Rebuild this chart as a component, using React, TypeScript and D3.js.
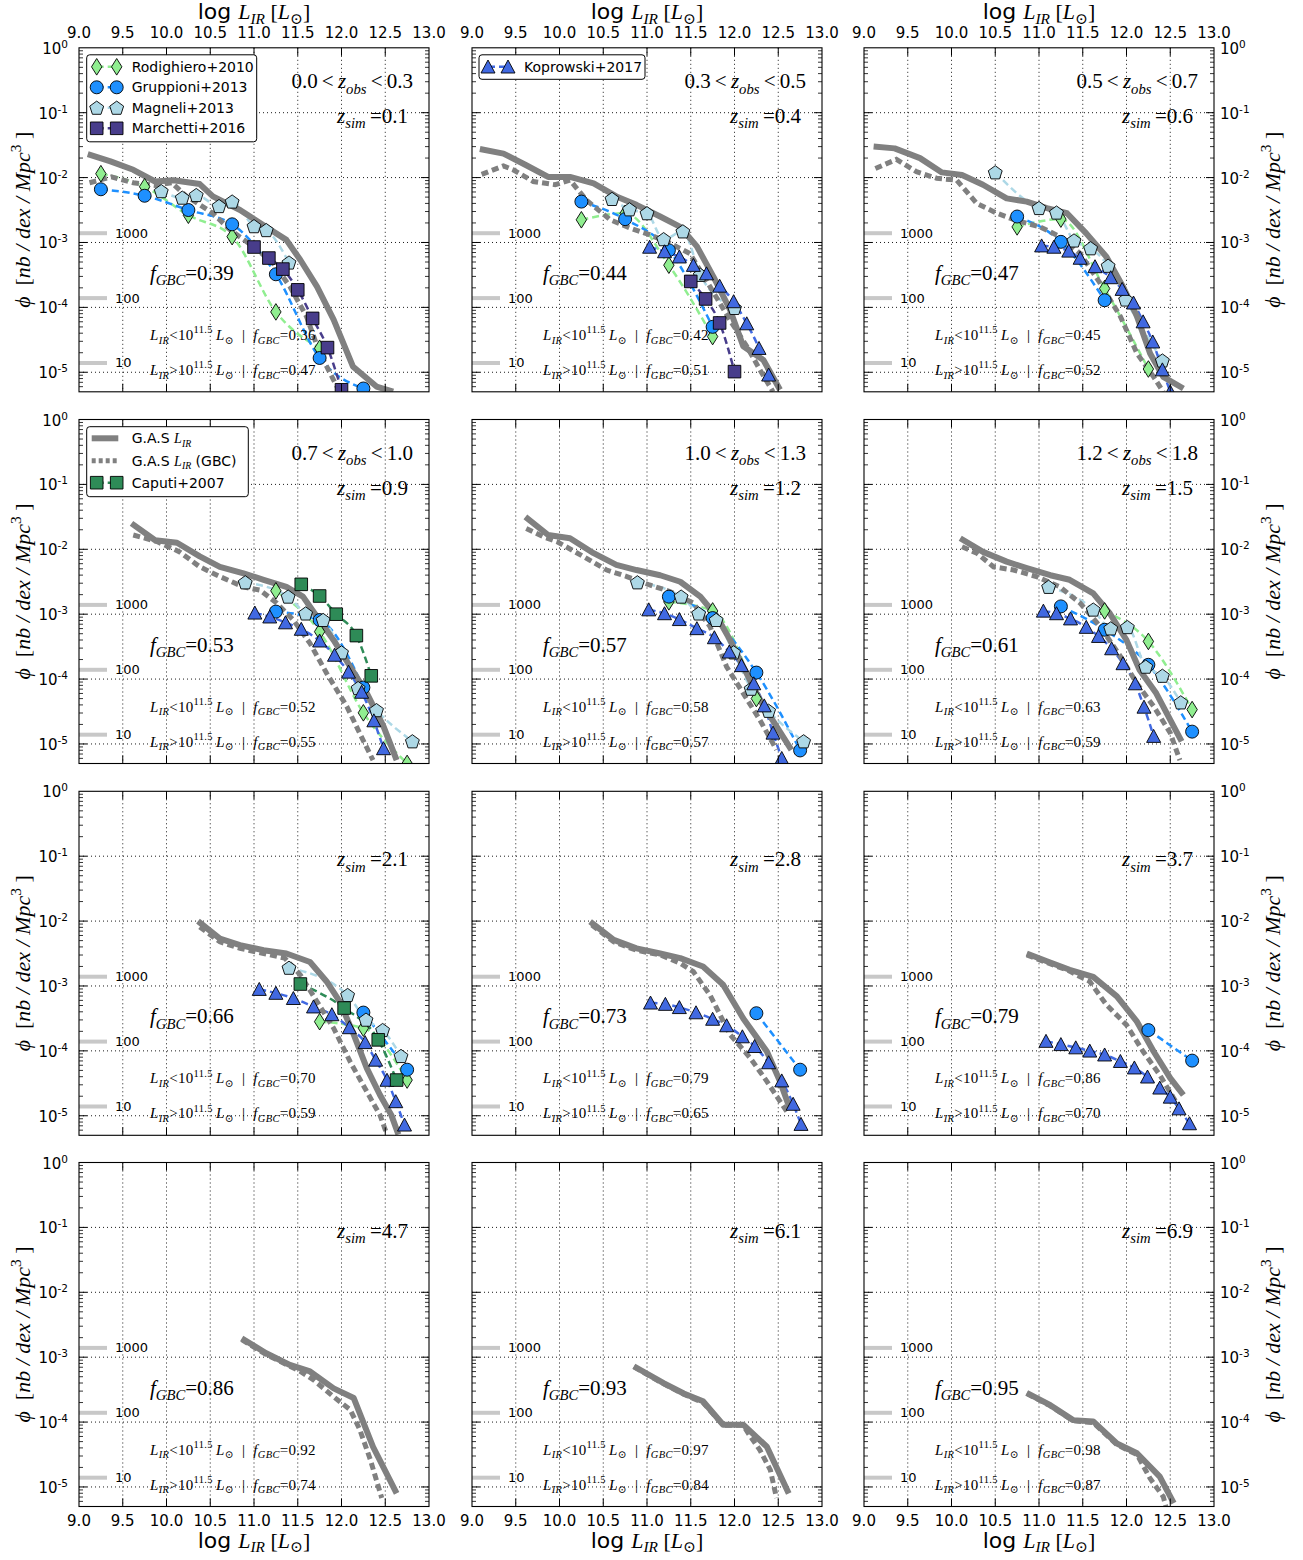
import React from "react";
import * as d3 from "d3";

type Pt = [number, number]; // [log L_IR, log10 phi]

const W = 1303;
const H = 1560;
const COL_LEFT = [79, 472, 864];
const ROW_TOP = [47.8, 419.5, 791.3, 1162.5];
const PW = 350;
const PH = 344;

const SERIF = "'Liberation Serif', 'DejaVu Serif', serif";
const SANS = "'DejaVu Sans', 'Liberation Sans', sans-serif";

const X_TICKS = [9.0, 9.5, 10.0, 10.5, 11.0, 11.5, 12.0, 12.5, 13.0];
const Y_DECADES = [0, -1, -2, -3, -4, -5];
const REF_COUNTS = ["1000", "100", "10"];
const REF_PHI = [1.39e-3, 1.39e-4, 1.39e-5];

const Z_OBS: (string[] | null)[] = [
  ["0.0", "0.3"], ["0.3", "0.5"], ["0.5", "0.7"],
  ["0.7", "1.0"], ["1.0", "1.3"], ["1.2", "1.8"],
  null, null, null, null, null, null,
];
const Z_SIM = ["0.1", "0.4", "0.6", "0.9", "1.2", "1.5", "2.1", "2.8", "3.7", "4.7", "6.1", "6.9"];
const F_GBC = ["0.39", "0.44", "0.47", "0.53", "0.57", "0.61", "0.66", "0.73", "0.79", "0.86", "0.93", "0.95"];
const F_GBC_LOW = ["0.36", "0.42", "0.45", "0.52", "0.58", "0.63", "0.70", "0.79", "0.86", "0.92", "0.97", "0.98"];
const F_GBC_HIGH = ["0.47", "0.51", "0.52", "0.55", "0.57", "0.59", "0.59", "0.65", "0.70", "0.74", "0.84", "0.87"];

// G.A.S total L_IR luminosity function, one array per panel
const gasLIR: Pt[][] = [
  [[9.10,-1.64],[9.36,-1.75],[9.62,-1.88],[9.87,-2.06],[10.08,-2.04],[10.38,-2.10],[10.53,-2.29],[10.84,-2.50],[11.14,-2.76],[11.37,-2.96],[11.53,-3.27],[11.72,-3.68],[11.91,-4.19],[12.13,-4.91],[12.40,-5.22],[12.59,-5.30]],
  [[9.09,-1.56],[9.36,-1.63],[9.62,-1.81],[9.87,-1.99],[10.12,-1.99],[10.39,-2.09],[10.65,-2.29],[10.88,-2.42],[11.15,-2.60],[11.38,-2.76],[11.57,-3.06],[11.76,-3.53],[11.95,-4.04],[12.10,-4.60],[12.33,-4.81],[12.52,-5.27]],
  [[9.11,-1.52],[9.35,-1.55],[9.64,-1.70],[9.89,-1.92],[10.12,-1.96],[10.36,-2.11],[10.63,-2.32],[10.86,-2.37],[11.09,-2.47],[11.32,-2.55],[11.54,-2.86],[11.77,-3.22],[11.96,-3.68],[12.12,-4.14],[12.27,-4.71],[12.42,-5.07],[12.65,-5.25]],
  [[9.60,-1.60],[9.87,-1.86],[10.12,-1.90],[10.38,-2.11],[10.61,-2.27],[10.88,-2.37],[11.11,-2.47],[11.37,-2.58],[11.56,-2.73],[11.72,-3.04],[11.91,-3.40],[12.10,-3.81],[12.29,-4.22],[12.48,-4.73],[12.63,-5.25]],
  [[9.61,-1.50],[9.87,-1.78],[10.12,-1.83],[10.39,-2.06],[10.65,-2.24],[10.88,-2.32],[11.15,-2.40],[11.38,-2.50],[11.61,-2.73],[11.80,-3.04],[11.95,-3.40],[12.10,-3.81],[12.29,-4.32],[12.48,-4.73],[12.65,-5.09]],
  [[10.10,-1.83],[10.36,-2.04],[10.63,-2.19],[10.86,-2.29],[11.13,-2.40],[11.35,-2.47],[11.62,-2.68],[11.81,-2.99],[12.00,-3.40],[12.15,-3.86],[12.34,-4.22],[12.50,-4.63],[12.63,-4.96]],
  [[10.36,-2.00],[10.61,-2.27],[10.84,-2.37],[11.11,-2.45],[11.37,-2.50],[11.64,-2.63],[11.83,-2.93],[11.98,-3.24],[12.14,-3.75],[12.29,-4.27],[12.44,-4.68],[12.57,-4.99],[12.65,-5.29]],
  [[10.35,-2.01],[10.62,-2.29],[10.88,-2.42],[11.15,-2.50],[11.38,-2.57],[11.64,-2.70],[11.87,-2.98],[12.10,-3.50],[12.37,-4.01],[12.52,-4.47],[12.63,-4.88]],
  [[10.86,-2.50],[11.09,-2.62],[11.35,-2.75],[11.62,-2.86],[11.89,-3.16],[12.12,-3.55],[12.31,-4.01],[12.50,-4.42],[12.65,-4.68]],
  [[10.86,-2.71],[11.14,-2.94],[11.41,-3.12],[11.64,-3.22],[11.91,-3.48],[12.14,-3.63],[12.36,-4.38],[12.63,-5.10]],
  [[10.85,-3.14],[11.19,-3.40],[11.42,-3.56],[11.64,-3.68],[11.87,-4.04],[12.10,-4.04],[12.37,-4.38],[12.62,-5.10]],
  [[10.86,-3.55],[11.13,-3.74],[11.39,-3.97],[11.62,-3.99],[11.89,-4.33],[12.12,-4.48],[12.38,-4.84],[12.54,-5.25]],
];

// G.A.S L_IR for the GBC population
const gasGBC: Pt[][] = [
  [[9.12,-2.08],[9.37,-1.99],[9.62,-2.08],[9.87,-2.12],[10.06,-2.08],[10.23,-2.29],[10.53,-2.55],[10.73,-2.81],[10.99,-3.06],[11.22,-3.32],[11.41,-3.68],[11.60,-4.14],[11.75,-4.70],[11.91,-5.12],[11.98,-5.30]],
  [[9.11,-1.95],[9.36,-1.82],[9.47,-1.88],[9.70,-2.06],[9.95,-2.11],[10.12,-2.04],[10.31,-2.35],[10.58,-2.65],[10.81,-2.78],[11.03,-2.88],[11.26,-3.01],[11.49,-3.17],[11.72,-3.68],[11.95,-4.20],[12.14,-4.60],[12.29,-4.96],[12.44,-5.30]],
  [[9.13,-1.86],[9.37,-1.72],[9.60,-1.91],[9.83,-2.01],[10.06,-2.04],[10.29,-2.40],[10.52,-2.55],[10.74,-2.66],[11.01,-2.76],[11.24,-2.91],[11.47,-3.17],[11.70,-3.63],[11.93,-4.14],[12.12,-4.71],[12.31,-5.07],[12.42,-5.30]],
  [[9.62,-1.78],[9.89,-1.88],[10.15,-2.04],[10.38,-2.27],[10.61,-2.42],[10.88,-2.58],[11.07,-2.63],[11.26,-2.83],[11.45,-3.09],[11.64,-3.45],[11.83,-3.91],[12.06,-4.42],[12.21,-4.84],[12.36,-5.25]],
  [[9.62,-1.68],[9.82,-1.81],[9.97,-1.88],[10.27,-2.11],[10.54,-2.32],[10.77,-2.42],[11.03,-2.55],[11.26,-2.65],[11.53,-2.83],[11.72,-3.19],[11.91,-3.81],[12.10,-4.22],[12.29,-4.63],[12.48,-5.09]],
  [[10.12,-1.96],[10.29,-2.06],[10.48,-2.27],[10.71,-2.32],[10.97,-2.42],[11.24,-2.58],[11.47,-2.83],[11.70,-3.19],[11.93,-3.65],[12.12,-4.07],[12.31,-4.42],[12.50,-4.83],[12.61,-5.25]],
  [[10.38,-2.09],[10.61,-2.32],[10.84,-2.42],[11.11,-2.50],[11.35,-2.57],[11.53,-2.83],[11.72,-3.24],[11.91,-3.65],[12.10,-4.17],[12.29,-4.63],[12.44,-4.99],[12.52,-5.29]],
  [[10.37,-2.06],[10.62,-2.32],[10.88,-2.45],[11.15,-2.52],[11.38,-2.65],[11.53,-2.78],[11.72,-3.14],[11.95,-3.75],[12.18,-4.11],[12.37,-4.47],[12.60,-4.94]],
  [[10.86,-2.52],[11.09,-2.64],[11.35,-2.77],[11.43,-2.83],[11.58,-2.93],[11.77,-3.29],[12.00,-3.60],[12.19,-4.01],[12.38,-4.37],[12.54,-4.73],[12.61,-4.88]],
  [[10.86,-2.73],[11.14,-2.96],[11.41,-3.14],[11.53,-3.22],[11.68,-3.35],[11.91,-3.61],[12.10,-3.81],[12.21,-4.12],[12.33,-4.58],[12.46,-5.17]],
  [[10.85,-3.15],[11.19,-3.41],[11.42,-3.57],[11.64,-3.70],[11.87,-4.05],[12.10,-4.05],[12.18,-4.22],[12.29,-4.43],[12.41,-4.74],[12.48,-5.17]],
  [[10.86,-3.56],[11.13,-3.75],[11.39,-3.98],[11.62,-4.01],[11.89,-4.35],[12.12,-4.50],[12.27,-4.87],[12.42,-5.15],[12.45,-5.30]],
];

const rodighiero2010: Pt[][] = [
  [[9.25,-1.94],[9.75,-2.14],[10.25,-2.58],[10.75,-2.91],[11.25,-4.07],[11.75,-4.63]],
  [[10.25,-2.65],[10.75,-2.55],[11.25,-3.35],[11.75,-4.45]],
  [[10.75,-2.76],[11.25,-2.64],[11.75,-3.71],[12.25,-4.95]],
  [[11.25,-2.64],[11.75,-3.27],[12.25,-4.52],[12.75,-5.30]],
  [[11.25,-2.81],[11.75,-2.95],[12.25,-4.30]],
  [[11.75,-2.95],[12.25,-3.42],[12.75,-4.47]],
  [[11.75,-3.55],[12.25,-3.65],[12.75,-4.45]],
  [], [], [], [], [],
];

const gruppioni2013: Pt[][] = [
  [[9.25,-2.18],[9.75,-2.28],[10.25,-2.50],[10.75,-2.72],[11.25,-3.49],[11.75,-4.78],[12.25,-5.25]],
  [[10.25,-2.37],[10.75,-2.64],[11.25,-3.12],[11.75,-4.30]],
  [[10.75,-2.60],[11.25,-2.99],[11.75,-3.89]],
  [[11.25,-2.96],[11.75,-3.09],[12.25,-4.13]],
  [[11.25,-2.73],[11.75,-3.06],[12.25,-3.90],[12.75,-5.10]],
  [[11.25,-2.88],[11.75,-3.24],[12.25,-3.78],[12.75,-4.81]],
  [[12.25,-3.41],[12.75,-4.29]],
  [[12.25,-3.42],[12.75,-4.29]],
  [[12.25,-3.68],[12.75,-4.15]],
  [], [], [],
];

const magneli2013: Pt[][] = [
  [[9.94,-2.21],[10.18,-2.31],[10.34,-2.27],[10.60,-2.44],[10.75,-2.37],[11.00,-2.75],[11.14,-2.81],[11.40,-3.31]],
  [[10.60,-2.33],[10.80,-2.49],[11.00,-2.55],[11.19,-2.95],[11.41,-2.83],[11.61,-3.50],[12.00,-4.01]],
  [[10.50,-1.92],[11.00,-2.47],[11.20,-2.54],[11.40,-2.97],[11.59,-3.09],[11.79,-3.36],[11.99,-3.88],[12.41,-4.82]],
  [[10.90,-2.51],[11.39,-2.73],[11.59,-2.99],[11.79,-3.09],[12.00,-3.59],[12.19,-4.14],[12.40,-4.48],[12.81,-4.96]],
  [[10.89,-2.51],[11.39,-2.73],[11.59,-2.99],[11.79,-3.09],[11.99,-3.59],[12.19,-4.15],[12.39,-4.49],[12.79,-4.96]],
  [[11.11,-2.58],[11.62,-2.93],[11.82,-3.22],[12.01,-3.20],[12.22,-3.81],[12.41,-3.95],[12.62,-4.36]],
  [[11.40,-2.72],[12.07,-3.14],[12.28,-3.52],[12.47,-3.68],[12.68,-4.08]],
  [], [], [], [], [],
];

const marchetti2016: Pt[][] = [
  [[11.00,-3.07],[11.17,-3.24],[11.33,-3.41],[11.50,-3.73],[11.67,-4.17],[11.84,-4.62],[12.00,-5.27]],
  [[11.50,-3.60],[11.67,-3.87],[11.83,-4.24],[12.00,-4.99]],
  [], [], [], [], [], [], [], [], [], [],
];

const koprowski2017: Pt[][] = [
  [],
  [[11.03,-3.07],[11.20,-3.14],[11.37,-3.22],[11.53,-3.35],[11.68,-3.48],[11.83,-3.67],[11.99,-3.91],[12.14,-4.25],[12.28,-4.63],[12.39,-5.04]],
  [[11.03,-3.05],[11.17,-3.07],[11.34,-3.13],[11.47,-3.24],[11.64,-3.37],[11.82,-3.54],[11.95,-3.72],[12.08,-3.93],[12.19,-4.22],[12.30,-4.53],[12.41,-4.96],[12.50,-5.30]],
  [[11.01,-2.98],[11.18,-3.04],[11.36,-3.13],[11.54,-3.23],[11.75,-3.41],[11.92,-3.63],[12.08,-3.89],[12.23,-4.20],[12.37,-4.64],[12.48,-5.07]],
  [[11.02,-2.93],[11.20,-2.99],[11.37,-3.08],[11.57,-3.22],[11.77,-3.36],[11.94,-3.58],[12.08,-3.79],[12.22,-4.07],[12.34,-4.41],[12.44,-4.83],[12.54,-5.22]],
  [[11.05,-2.95],[11.20,-2.99],[11.36,-3.07],[11.54,-3.20],[11.68,-3.34],[11.83,-3.53],[11.96,-3.76],[12.10,-4.07],[12.20,-4.43],[12.31,-4.88]],
  [[11.06,-3.05],[11.25,-3.11],[11.45,-3.19],[11.68,-3.32],[11.89,-3.44],[12.09,-3.64],[12.27,-3.87],[12.39,-4.14],[12.52,-4.45],[12.62,-4.78],[12.72,-5.14]],
  [[11.04,-3.26],[11.21,-3.28],[11.37,-3.33],[11.56,-3.41],[11.75,-3.51],[11.91,-3.61],[12.09,-3.78],[12.23,-3.93],[12.39,-4.18],[12.54,-4.46],[12.67,-4.82],[12.76,-5.13]],
  [[11.08,-3.85],[11.25,-3.90],[11.42,-3.95],[11.58,-4.00],[11.75,-4.06],[11.93,-4.16],[12.09,-4.26],[12.24,-4.40],[12.38,-4.57],[12.50,-4.71],[12.60,-4.89],[12.72,-5.12]],
  [], [], [],
];

const caputi2007: Pt[][] = [
  [], [], [],
  [[11.54,-2.54],[11.75,-2.72],[11.94,-3.00],[12.17,-3.33],[12.34,-3.95]],
  [], [],
  [[11.53,-2.97],[12.03,-3.34],[12.42,-3.83],[12.63,-4.45]],
  [], [], [], [], [],
];

type MarkerKind = "diamond" | "circle" | "pentagon" | "square" | "triangle";
const OBS_SERIES: { label: string; color: string; marker: MarkerKind; data: Pt[][] }[] = [
  { label: "Rodighiero+2010", color: "#90EE90", marker: "diamond", data: rodighiero2010 },
  { label: "Gruppioni+2013", color: "#1E90FF", marker: "circle", data: gruppioni2013 },
  { label: "Magneli+2013", color: "#ADD8E6", marker: "pentagon", data: magneli2013 },
  { label: "Marchetti+2016", color: "#483D8B", marker: "square", data: marchetti2016 },
  { label: "Koprowski+2017", color: "#4169E1", marker: "triangle", data: koprowski2017 },
  { label: "Caputi+2007", color: "#2E8B57", marker: "square", data: caputi2007 },
];

const GAS_COLOR = "#808080";

function polyPath(pts: number[][]) {
  return "M" + pts.map((p) => p[0].toFixed(2) + "," + p[1].toFixed(2)).join("L") + "Z";
}

function Marker({ kind, cx, cy, color }: { kind: MarkerKind; cx: number; cy: number; color: string }) {
  const common = { fill: color, stroke: "#000", strokeWidth: 0.9 };
  if (kind === "circle") return <circle cx={cx} cy={cy} r={6.5} {...common} />;
  let pts: number[][] = [];
  if (kind === "square") pts = [[-6.3, -6.3], [6.3, -6.3], [6.3, 6.3], [-6.3, 6.3]];
  if (kind === "diamond") pts = [[0, -8.3], [5.2, 0], [0, 8.3], [-5.2, 0]];
  if (kind === "triangle") pts = [[0, -6.8], [7, 6.2], [-7, 6.2]];
  if (kind === "pentagon") {
    const r = 7.3;
    pts = d3.range(5).map((k) => {
      const a = -Math.PI / 2 + (k * 2 * Math.PI) / 5;
      return [r * Math.cos(a), r * Math.sin(a) + 0.6];
    });
  }
  return <path d={polyPath(pts.map((p) => [p[0] + cx, p[1] + cy]))} {...common} />;
}

type Part = [string, string];
function MathText({
  x, y, parts, size, anchor = "start", family = SERIF, transform, subShift = 0.26, spacing = 0,
}: { x: number; y: number; parts: Part[]; size: number; anchor?: string; family?: string; transform?: string; subShift?: number; spacing?: number }) {
  let cur = 0;
  const spans = parts.map(([t, k], i) => {
    const isSub = k === "sub" || k === "subr";
    const isSup = k === "sup";
    const target = isSub ? size * subShift : isSup ? -size * 0.42 : 0;
    const dy = target - cur;
    cur = target;
    const italic = k === "i" || k === "sub";
    const fs = isSub || isSup ? size * 0.7 : size;
    const fam = k === "sans" ? SANS : family;
    return (
      <tspan key={i} dy={dy} fontSize={fs} fontStyle={italic ? "italic" : "normal"} fontFamily={fam}>
        {t}
      </tspan>
    );
  });
  return (
    <text x={x} y={y} textAnchor={anchor as any} fontSize={size} fill="#000" transform={transform} fontFamily={family} letterSpacing={spacing} style={{ whiteSpace: "pre" }}>
      {spans}
    </text>
  );
}

const TH = "\u2009";

function Panel({ i }: { i: number }) {
  const col = i % 3;
  const row = Math.floor(i / 3);
  const left = COL_LEFT[col];
  const top = ROW_TOP[row];
  const x = d3.scaleLinear().domain([9, 13]).range([0, PW]);
  const y = d3.scaleLog().domain([5e-6, 1]).range([PH, 0]);
  const yv = (lp: number) => y(Math.pow(10, lp));
  const line = d3.line<Pt>().x((d) => x(d[0])).y((d) => yv(d[1]));
  const fitLine = d3.line<Pt>().x((d) => x(d[0])).y((d) => yv(d[1])).curve(d3.curveMonotoneX);
  const clipId = `clip-${i}`;

  const minor: number[] = [];
  for (let d = -6; d < 0; d++) for (let k = 2; k <= 9; k++) {
    const v = k * Math.pow(10, d);
    if (v > 5e-6 && v < 1) minor.push(v);
  }
  const zobs = Z_OBS[i];
  const xLabelParts: Part[] = [["log ", "sans"], ["L", "i"], ["IR", "sub"], [" [", "r"], ["L", "i"], ["\u2299", "subr"], ["]", "r"]];
  const yLabelParts: Part[] = [["\u03D5", "i"], ["  [", "r"], ["nb", "i"], [" / ", "i"], ["dex", "i"], [" / ", "i"], ["Mpc", "i"], ["3", "sup"], [" ]", "r"]];

  return (
    <g transform={`translate(${left},${top})`}>
      <defs>
        <clipPath id={clipId}>
          <rect x={0} y={0} width={PW} height={PH} />
        </clipPath>
      </defs>
      <rect x={0} y={0} width={PW} height={PH} fill="#fff" />
      {/* grid */}
      {X_TICKS.slice(1, -1).map((t) => (
        <line key={"gx" + t} x1={x(t)} x2={x(t)} y1={0} y2={PH} stroke="#000" strokeWidth={0.9} strokeDasharray="1,3" />
      ))}
      {Y_DECADES.slice(1).map((d) => (
        <line key={"gy" + d} x1={0} x2={PW} y1={yv(d)} y2={yv(d)} stroke="#000" strokeWidth={0.9} strokeDasharray="1,3" />
      ))}
      {/* reference count bars */}
      {REF_PHI.map((p, k) => (
        <g key={"ref" + k}>
          <line x1={x(9)} x2={x(9.32)} y1={y(p)} y2={y(p)} stroke="#c8c8c8" strokeWidth={4} />
          <text x={x(9.41)} y={y(p) + 4.5} fontFamily={SANS} fontSize={13} fill="#000">{REF_COUNTS[k]}</text>
        </g>
      ))}
      <g clipPath={`url(#${clipId})`}>
        {OBS_SERIES.map((s) =>
          s.data[i].length > 1 ? (
            <path key={"fit" + s.label} d={fitLine(s.data[i]) || ""} fill="none" stroke={s.color} strokeWidth={2.5} strokeDasharray="7,4" />
          ) : null
        )}
        <path d={line(gasGBC[i]) || ""} fill="none" stroke={GAS_COLOR} strokeWidth={5} strokeDasharray="7,4" />
        <path d={line(gasLIR[i]) || ""} fill="none" stroke={GAS_COLOR} strokeWidth={6} strokeLinejoin="round" />
        {OBS_SERIES.map((s) =>
          s.data[i].map((d, k) => (
            <Marker key={s.label + k} kind={s.marker} cx={x(d[0])} cy={yv(d[1])} color={s.color} />
          ))
        )}
      </g>
      {/* annotations */}
      {zobs && (
        <MathText x={PW - 16} y={40.5} size={21} anchor="end"
          parts={[[zobs[0], "r"], [TH + "<" + TH, "r"], ["z", "i"], ["obs", "sub"], [TH + "<" + TH, "r"], [zobs[1], "r"]]} />
      )}
      <MathText x={PW - 21} y={75} size={21} anchor="end"
        parts={[["z", "i"], ["sim", "sub"], [TH + "=", "r"], [Z_SIM[i], "r"]]} />
      <MathText x={71} y={232} size={21}
        parts={[["f", "i"], ["GBC", "sub"], ["=", "r"], [F_GBC[i], "r"]]} />
      <MathText x={71} y={292} size={15} spacing={0.3}
        parts={[["L", "i"], ["IR", "sub"], ["<10", "r"], ["11.5", "sup"], [TH + "L", "i"], ["\u2299", "subr"], ["  |  ", "r"], ["f", "i"], ["GBC", "sub"], ["=" + F_GBC_LOW[i], "r"]]} />
      <MathText x={71} y={327} size={15} spacing={0.3}
        parts={[["L", "i"], ["IR", "sub"], [">10", "r"], ["11.5", "sup"], [TH + "L", "i"], ["\u2299", "subr"], ["  |  ", "r"], ["f", "i"], ["GBC", "sub"], ["=" + F_GBC_HIGH[i], "r"]]} />
      {/* ticks */}
      {X_TICKS.slice(1, -1).map((t) => (
        <g key={"tx" + t}>
          <line x1={x(t)} x2={x(t)} y1={0} y2={8} stroke="#000" strokeWidth={1} />
          <line x1={x(t)} x2={x(t)} y1={PH} y2={PH - 8} stroke="#000" strokeWidth={1} />
        </g>
      ))}
      {Y_DECADES.slice(1).map((d) => (
        <g key={"ty" + d}>
          <line x1={0} x2={8} y1={yv(d)} y2={yv(d)} stroke="#000" strokeWidth={1} />
          <line x1={PW} x2={PW - 8} y1={yv(d)} y2={yv(d)} stroke="#000" strokeWidth={1} />
        </g>
      ))}
      {minor.map((v, k) => (
        <g key={"tm" + k}>
          <line x1={0} x2={4} y1={y(v)} y2={y(v)} stroke="#000" strokeWidth={0.8} />
          <line x1={PW} x2={PW - 4} y1={y(v)} y2={y(v)} stroke="#000" strokeWidth={0.8} />
        </g>
      ))}
      <rect x={0} y={0} width={PW} height={PH} fill="none" stroke="#000" strokeWidth={1.1} />
      {/* tick labels */}
      {row === 0 && X_TICKS.map((t) => (
        <text key={"lx" + t} x={x(t)} y={-9.5} textAnchor="middle" fontFamily={SANS} fontSize={15}>{d3.format(".1f")(t)}</text>
      ))}
      {row === 3 && X_TICKS.map((t) => (
        <text key={"lxb" + t} x={x(t)} y={PH + 19} textAnchor="middle" fontFamily={SANS} fontSize={15}>{d3.format(".1f")(t)}</text>
      ))}
      {col === 0 && Y_DECADES.map((d) => (
        <text key={"ly" + d} x={-11} y={yv(d) + 6} textAnchor="end" fontFamily={SANS} fontSize={15}>
          10<tspan dy={-6} fontSize={10.5}>{String(d)}</tspan>
        </text>
      ))}
      {col === 2 && Y_DECADES.map((d) => (
        <text key={"lyr" + d} x={PW + 6} y={yv(d) + 6} textAnchor="start" fontFamily={SANS} fontSize={15}>
          10<tspan dy={-6} fontSize={10.5}>{String(d)}</tspan>
        </text>
      ))}
      {/* axis labels */}
      {row === 0 && (
        <MathText x={PW / 2} y={-28.5} size={22} anchor="middle" subShift={0.2} parts={xLabelParts} />
      )}
      {row === 3 && (
        <MathText x={PW / 2} y={PH + 41} size={22} anchor="middle" subShift={0.2} parts={xLabelParts} />
      )}
      {col === 0 && (
        <MathText x={0} y={0} size={22} anchor="middle" transform={`translate(-49,${PH / 2}) rotate(-90)`} parts={yLabelParts} />
      )}
      {col === 2 && (
        <MathText x={0} y={0} size={22} anchor="middle" transform={`translate(${PW + 66},${PH / 2}) rotate(-90)`} parts={yLabelParts} />
      )}
      {/* legends */}
      {i === 0 && (
        <g>
          <rect x={7.7} y={7} width={170} height={87} rx={3} fill="#fff" stroke="#000" strokeWidth={1} />
          {OBS_SERIES.slice(0, 4).map((s, k) => {
            const ly = 19 + k * 20.5;
            return (
              <g key={"lg" + k}>
                <line x1={17.7} x2={37.7} y1={ly} y2={ly} stroke={s.color} strokeWidth={2.5} strokeDasharray="7,4" />
                <Marker kind={s.marker} cx={17.7} cy={ly} color={s.color} />
                <Marker kind={s.marker} cx={37.7} cy={ly} color={s.color} />
                <text x={52.7} y={ly + 5} fontFamily={SANS} fontSize={14}>{s.label}</text>
              </g>
            );
          })}
        </g>
      )}
      {i === 1 && (
        <g>
          <rect x={7} y={7} width={166} height={24.5} rx={3} fill="#fff" stroke="#000" strokeWidth={1} />
          <line x1={16} x2={36} y1={19} y2={19} stroke={OBS_SERIES[4].color} strokeWidth={2.5} strokeDasharray="7,4" />
          <Marker kind="triangle" cx={16} cy={19} color={OBS_SERIES[4].color} />
          <Marker kind="triangle" cx={36} cy={19} color={OBS_SERIES[4].color} />
          <text x={52} y={24} fontFamily={SANS} fontSize={14}>{OBS_SERIES[4].label}</text>
        </g>
      )}
      {i === 3 && (
        <g>
          <rect x={7.7} y={7.2} width={161.6} height={70} rx={3} fill="#fff" stroke="#000" strokeWidth={1} />
          <line x1={12.7} x2={39.3} y1={18.8} y2={18.8} stroke={GAS_COLOR} strokeWidth={6} />
          <MathText x={52.7} y={23.8} size={14} parts={[["G.A.S ", "sans"], ["L", "i"], ["IR", "sub"]]} />
          <line x1={12.7} x2={39.3} y1={41.2} y2={41.2} stroke={GAS_COLOR} strokeWidth={5} strokeDasharray="4,3" />
          <MathText x={52.7} y={46.2} size={14} parts={[["G.A.S ", "sans"], ["L", "i"], ["IR", "sub"], [" (GBC)", "sans"]]} />
          <line x1={17.7} x2={37.7} y1={63.2} y2={63.2} stroke={OBS_SERIES[5].color} strokeWidth={2.5} strokeDasharray="7,4" />
          <Marker kind="square" cx={17.7} cy={63.2} color={OBS_SERIES[5].color} />
          <Marker kind="square" cx={37.7} cy={63.2} color={OBS_SERIES[5].color} />
          <text x={52.7} y={68.2} fontFamily={SANS} fontSize={14}>{OBS_SERIES[5].label}</text>
        </g>
      )}
    </g>
  );
}

export default function App() {
  return (
    <svg width={W} height={H} viewBox={`0 0 ${W} ${H}`} style={{ position: "absolute", left: 0, top: 0, background: "#fff" }}>
      <rect x={0} y={0} width={W} height={H} fill="#fff" />
      {d3.range(12).map((i) => (
        <Panel key={i} i={i} />
      ))}
    </svg>
  );
}
